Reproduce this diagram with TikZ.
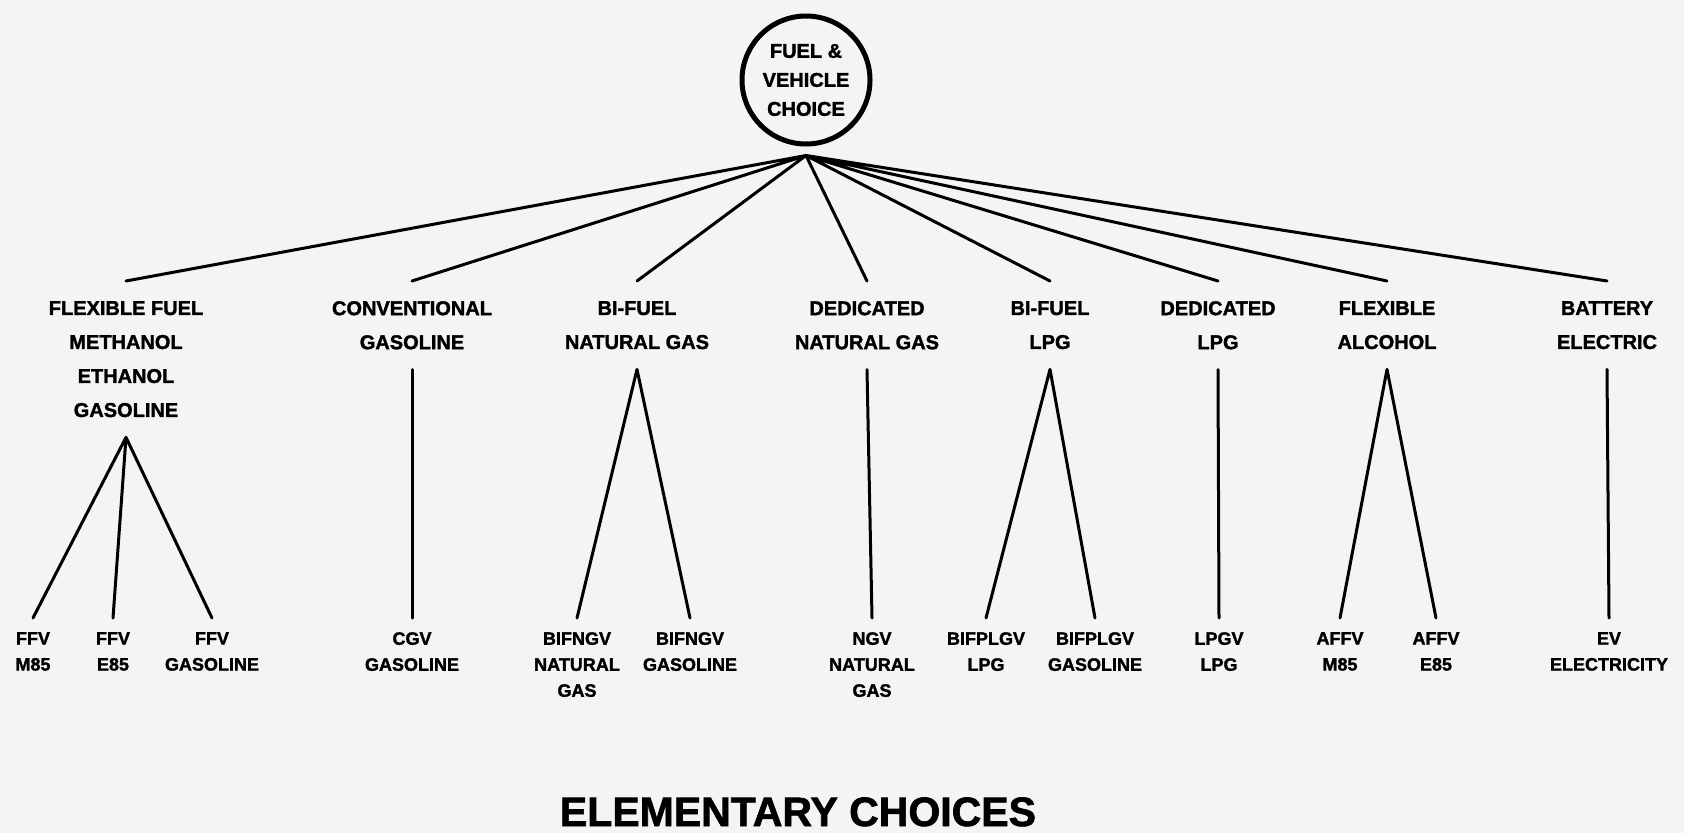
\documentclass[tikz,border=0pt]{standalone}
\usepackage{fontspec}
\setmainfont{Liberation Sans}[BoldFont={Liberation Sans Bold},BoldFeatures={FakeBold=1.6}]
\definecolor{paper}{RGB}{244,244,244}
\begin{document}
\begin{tikzpicture}[x=1pt,y=-1pt]
            \tikzstyle{choice}=[circle,draw,line width=5pt,minimum size=128pt,inner sep=0pt,align=center,font=\bfseries\fontsize{20}{29}\selectfont]
            \tikzstyle{kind}=[anchor=north,align=center,inner xsep=2pt,inner ysep=20pt,font=\bfseries\fontsize{20}{34}\selectfont]
            \tikzstyle{leaf}=[anchor=north,align=center,inner xsep=2pt,inner ysep=14pt,font=\bfseries\fontsize{18}{26}\selectfont]
            \tikzstyle{link}=[line width=3pt,line cap=round]
            \useasboundingbox[fill=paper] (0,0) rectangle (1684,833);
            % top of the tree
            \node[choice] (root) at (806,80) {FUEL \&\\VEHICLE\\CHOICE};
            \coordinate (hub) at ([yshift=-9pt]root.south);
            % fuel and vehicle kinds
            \node[kind] (flex) at (126,281) {FLEXIBLE FUEL\\METHANOL\\ETHANOL\\GASOLINE};
            \node[kind] (conv) at (412,281) {CONVENTIONAL\\GASOLINE};
            \node[kind] (bing) at (637,281) {BI-FUEL\\NATURAL GAS};
            \node[kind] (dedng) at (867,281) {DEDICATED\\NATURAL GAS};
            \node[kind] (bilpg) at (1050,281) {BI-FUEL\\LPG};
            \node[kind] (dedlpg) at (1218,281) {DEDICATED\\LPG};
            \node[kind] (alco) at (1387,281) {FLEXIBLE\\ALCOHOL};
            \node[kind] (batt) at (1607,281) {BATTERY\\ELECTRIC};
            % elementary choices
            \node[leaf] (ffvm) at (33,618) {FFV\\M85};
            \node[leaf] (ffve) at (113,618) {FFV\\E85};
            \node[leaf] (ffvg) at (212,618) {FFV\\GASOLINE};
            \node[leaf] (cgv) at (412,618) {CGV\\GASOLINE};
            \node[leaf] (bifngvn) at (577,618) {BIFNGV\\NATURAL\\GAS};
            \node[leaf] (bifngvg) at (690,618) {BIFNGV\\GASOLINE};
            \node[leaf] (ngv) at (872,618) {NGV\\NATURAL\\GAS};
            \node[leaf] (biflpgl) at (986,618) {BIFPLGV\\LPG};
            \node[leaf] (biflpgg) at (1095,618) {BIFPLGV\\GASOLINE};
            \node[leaf] (lpgv) at (1219,618) {LPGV\\LPG};
            \node[leaf] (affvm) at (1340,618) {AFFV\\M85};
            \node[leaf] (affve) at (1436,618) {AFFV\\E85};
            \node[leaf] (ev) at (1609,618) {EV\\ELECTRICITY};
            % connectors
            \draw[link] (hub) -- (flex.north) (hub) -- (conv.north) (hub) -- (bing.north) (hub) -- (dedng.north)
                (hub) -- (bilpg.north) (hub) -- (dedlpg.north) (hub) -- (alco.north) (hub) -- (batt.north);
            \draw[link] (flex.south) -- (ffvm.north) (flex.south) -- (ffve.north) (flex.south) -- (ffvg.north);
            \draw[link] (conv.south) -- (cgv.north);
            \draw[link] (bing.south) -- (bifngvn.north) (bing.south) -- (bifngvg.north);
            \draw[link] (dedng.south) -- (ngv.north);
            \draw[link] (bilpg.south) -- (biflpgl.north) (bilpg.south) -- (biflpgg.north);
            \draw[link] (dedlpg.south) -- (lpgv.north);
            \draw[link] (alco.south) -- (affvm.north) (alco.south) -- (affve.north);
            \draw[link] (batt.south) -- (ev.north);
            \node[anchor=base,font=\bfseries\fontsize{41}{41}\selectfont] (title) at (798,826) {ELEMENTARY CHOICES};
        \end{tikzpicture}
\end{document}
